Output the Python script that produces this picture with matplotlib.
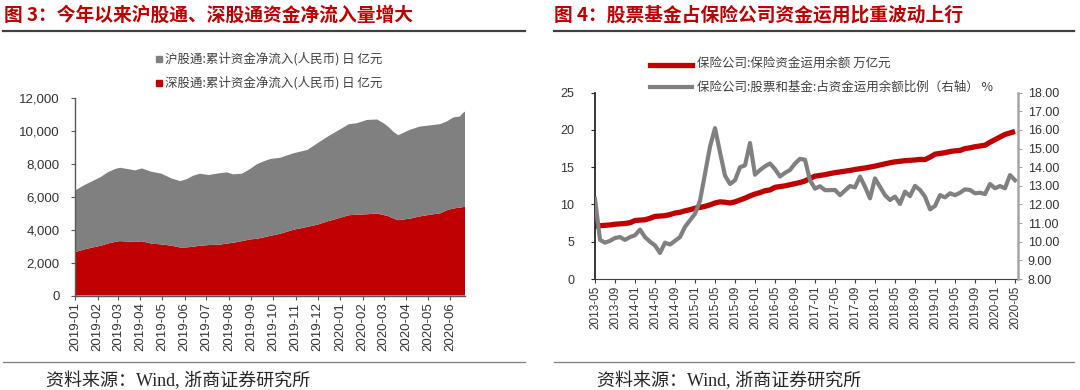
import numpy as np
import pandas as pd
import matplotlib
matplotlib.use('Agg')
import matplotlib.pyplot as plt
import matplotlib.dates as mdates
from matplotlib.lines import Line2D
from matplotlib.ticker import FuncFormatter

plt.rcParams['font.family'] = ['Liberation Sans', 'Noto Sans CJK SC']
plt.rcParams['axes.unicode_minus'] = False

RED = '#c00000'
GRAY = '#808080'
W, H = 1080, 390

# ---- left: 陆股通累计净流入 (亿元) ----
hk_dates = ['2019-01-02', '2019-01-14', '2019-01-28', '2019-02-06', '2019-02-15',
            '2019-02-25', '2019-03-04', '2019-03-15', '2019-03-25', '2019-04-03',
            '2019-04-16', '2019-04-30', '2019-05-14', '2019-05-26', '2019-06-04',
            '2019-06-13', '2019-06-22', '2019-07-04', '2019-07-18', '2019-07-29',
            '2019-08-07', '2019-08-19', '2019-08-30', '2019-09-08', '2019-09-19',
            '2019-09-27', '2019-10-11', '2019-10-29', '2019-11-17', '2019-12-01',
            '2019-12-15', '2019-12-31', '2020-01-13', '2020-01-24', '2020-02-07',
            '2020-02-21', '2020-03-01', '2020-03-07', '2020-03-14', '2020-03-21',
            '2020-04-06', '2020-04-20', '2020-05-04', '2020-05-18', '2020-05-27',
            '2020-06-05', '2020-06-14', '2020-06-18', '2020-06-21']
# 沪+深 total (top of the stack)
hk_total = [6390, 6700, 7000, 7200, 7470, 7670, 7750, 7670, 7590, 7710,
            7510, 7390, 7100, 6940, 7060, 7270, 7390, 7310, 7410, 7470,
            7350, 7390, 7670, 7950, 8160, 8280, 8360, 8630, 8830, 9240,
            9640, 10050, 10390, 10450, 10650, 10680, 10450, 10250, 9950, 9720,
            10050, 10250, 10320, 10400, 10560, 10800, 10860, 11060, 11160]
# 深股通
sz_flow = [2640, 2800, 2940, 3020, 3150, 3250, 3300, 3270, 3250, 3290,
           3150, 3100, 3020, 2910, 2920, 2960, 3020, 3060, 3080, 3150,
           3200, 3300, 3400, 3440, 3540, 3620, 3750, 3990, 4160, 4300,
           4500, 4700, 4870, 4900, 4930, 4970, 4880, 4820, 4680, 4570,
           4660, 4800, 4900, 4990, 5170, 5280, 5330, 5360, 5380]
sh_label = '沪股通:累计资金净流入(人民币) 日 亿元'
sz_label = '深股通:累计资金净流入(人民币) 日 亿元'

# ---- right: 保险资金 ----
ins_months = pd.date_range('2013-05-01', '2020-05-01', freq='MS')
ins_balance = [7.1, 7.15, 7.2, 7.25, 7.35, 7.4, 7.45, 7.55, 7.85, 7.9,
               7.95, 8.15, 8.4, 8.45, 8.5, 8.65, 8.85, 8.95, 9.15, 9.3,
               9.5, 9.6, 9.75, 9.95, 10.2, 10.35, 10.3, 10.2, 10.35, 10.6,
               10.85, 11.15, 11.4, 11.6, 11.85, 11.95, 12.3, 12.4, 12.5, 12.65,
               12.8, 12.95, 13.15, 13.5, 13.8, 13.9, 14.0, 14.15, 14.27, 14.37,
               14.47, 14.57, 14.7, 14.8, 14.9, 15.02, 15.15, 15.3, 15.45, 15.6,
               15.72, 15.8, 15.88, 15.92, 15.97, 16.05, 16.02, 16.35, 16.75, 16.85,
               16.95, 17.1, 17.2, 17.25, 17.5, 17.6, 17.75, 17.85, 17.95, 18.35,
               18.7, 19.05, 19.4, 19.6, 19.8]
equity_ratio = [12.3, 10.1, 9.95, 10.05, 10.2, 10.25, 10.1, 10.25, 10.35, 10.65,
                10.25, 10.0, 9.8, 9.4, 9.95, 9.85, 10.05, 10.25, 10.8, 11.15,
                11.5, 12.2, 13.65, 15.1, 16.1, 14.8, 13.55, 13.1, 13.3, 14.0,
                14.1, 15.3, 13.6, 13.85, 14.05, 14.2, 13.9, 13.5, 13.7, 13.85,
                14.2, 14.45, 14.4, 13.3, 12.85, 12.98, 12.77, 12.77, 12.78, 12.5,
                12.75, 12.99, 12.92, 13.5, 12.95, 12.33, 13.4, 12.95, 12.5, 12.24,
                12.42, 12.03, 12.69, 12.45, 13.0, 12.78, 12.42, 11.74, 11.92, 12.5,
                12.38, 12.6, 12.5, 12.63, 12.81, 12.78, 12.6, 12.63, 12.56, 13.1,
                12.87, 12.99, 12.87, 13.58, 13.3]
bal_label = '保险公司:保险资金运用余额 万亿元'
eq_label = '保险公司:股票和基金:占资金运用余额比例（右轴） %'


def fx(px):
    return px / W


def fy(py):
    return 1 - py / H


fig = plt.figure(figsize=(10.8, 3.9), dpi=100)

# ================= left panel =================
ax1 = fig.add_axes([fx(75), fy(295.5), fx(390), (295.5 - 97.7) / H])
dates = pd.to_datetime(hk_dates)
sz = np.array(sz_flow)
sh = np.array(hk_total) - sz
ax1.stackplot(dates, sz, sh, colors=[RED, GRAY], linewidth=0)
ax1.set_ylim(0, 12000)
ax1.set_yticks(range(0, 12001, 2000))
ax1.yaxis.set_major_formatter(FuncFormatter(lambda v, p: f'{v:,.0f}'))
ax1.set_xlim(pd.Timestamp('2019-01-01'), pd.Timestamp('2020-06-21'))
ax1.xaxis.set_major_locator(mdates.MonthLocator())
ax1.xaxis.set_major_formatter(mdates.DateFormatter('%Y-%m'))
for s in ['top', 'right']:
    ax1.spines[s].set_visible(False)
for s in ['left', 'bottom']:
    ax1.spines[s].set_color('#595959')
    ax1.spines[s].set_linewidth(1)
ax1.tick_params(axis='y', labelsize=9.5, colors='#595959', labelcolor='#333333',
                length=3, pad=8)
ax1.tick_params(axis='x', labelsize=9.5, colors='#595959', labelcolor='#333333',
                length=3, rotation=90, pad=2)

# legend (square markers)
for row, (lab, col) in enumerate([(sh_label, GRAY), (sz_label, RED)]):
    yy = fy(59 + row * 24)
    fig.add_artist(Line2D([fx(159)], [yy], marker='s', markersize=5, color=col,
                          linestyle='none', transform=fig.transFigure))
    fig.text(fx(165), yy, lab, fontsize=9, color='#404040', va='center',
             family=['Noto Sans CJK SC'])

# ================= right panel =================
ax2 = fig.add_axes([fx(595), fy(279), fx(423), (279 - 92.7) / H])
xm = np.arange(len(ins_months))
ax2.plot(xm, ins_balance, color=RED, lw=3.8, solid_capstyle='butt')
ax2.set_ylim(0, 25)
ax2.set_yticks(range(0, 26, 5))
ax2.set_xlim(0, 84.6)
ax2.set_xticks(xm[::4])
ax2.set_xticklabels([d.strftime('%Y-%m') for d in ins_months[::4]])
ax2b = ax2.twinx()
ax2b.plot(xm, equity_ratio, color=GRAY, lw=3, solid_joinstyle='round')
ax2b.set_ylim(8, 18)
ax2b.set_yticks(np.arange(8, 18.01, 1))
ax2b.yaxis.set_major_formatter(FuncFormatter(lambda v, p: f'{v:.2f}'))
for a in (ax2, ax2b):
    a.spines['top'].set_visible(False)
ax2.spines['right'].set_visible(False)
ax2b.spines['left'].set_visible(False)
ax2b.spines['bottom'].set_visible(False)
ax2.spines['left'].set_color('#262626')
ax2.spines['left'].set_linewidth(1.3)
ax2.spines['bottom'].set_color('#404040')
ax2b.spines['right'].set_color('#a6a6a6')
ax2b.spines['right'].set_linewidth(1.8)
ax2.tick_params(axis='y', labelsize=9, colors='#262626', labelcolor='#333333',
                length=3, pad=12)
ax2.tick_params(axis='x', labelsize=8.5, colors='#404040', labelcolor='#333333',
                length=3, rotation=90, pad=2)
ax2b.tick_params(axis='y', labelsize=9, colors='#a6a6a6', labelcolor='#333333',
                 length=3, pad=4)

for row, (lab, col, lw) in enumerate([(bal_label, RED, 3.8), (eq_label, GRAY, 3)]):
    yy = fy(64.5 + row * 22.5)
    fig.add_artist(Line2D([fx(650), fx(692)], [yy, yy], color=col, lw=lw,
                          transform=fig.transFigure))
    fig.text(fx(697), yy, lab, fontsize=9, color='#404040', va='center',
             family=['Noto Sans CJK SC'])

# ================= titles, rules, sources =================
titles = [(4, '图 3：今年以来沪股通、深股通资金净流入量增大'),
          (554, '图 4：股票基金占保险公司资金运用比重波动上行')]
for x0, t in titles:
    fig.text(fx(x0), fy(15), t, fontsize=13.5, fontweight='bold', color=RED,
             va='center', family=['Noto Sans CJK SC'])

for x0, x1 in [(3, 525), (554, 1074)]:
    fig.add_artist(Line2D([fx(x0), fx(x1)], [fy(31), fy(31)], color='#404040',
                          lw=1.6, transform=fig.transFigure))
    fig.add_artist(Line2D([fx(x0), fx(x1)], [fy(361.5), fy(361.5)], color='#808080',
                          lw=0.9, transform=fig.transFigure))

for x0 in [46, 597]:
    fig.text(fx(x0), fy(381), '资料来源：Wind, 浙商证券研究所', fontsize=13,
             color='#262626', va='center',
             family=['Liberation Serif', 'Noto Sans CJK SC'])

fig.savefig('out.png', dpi=100)
